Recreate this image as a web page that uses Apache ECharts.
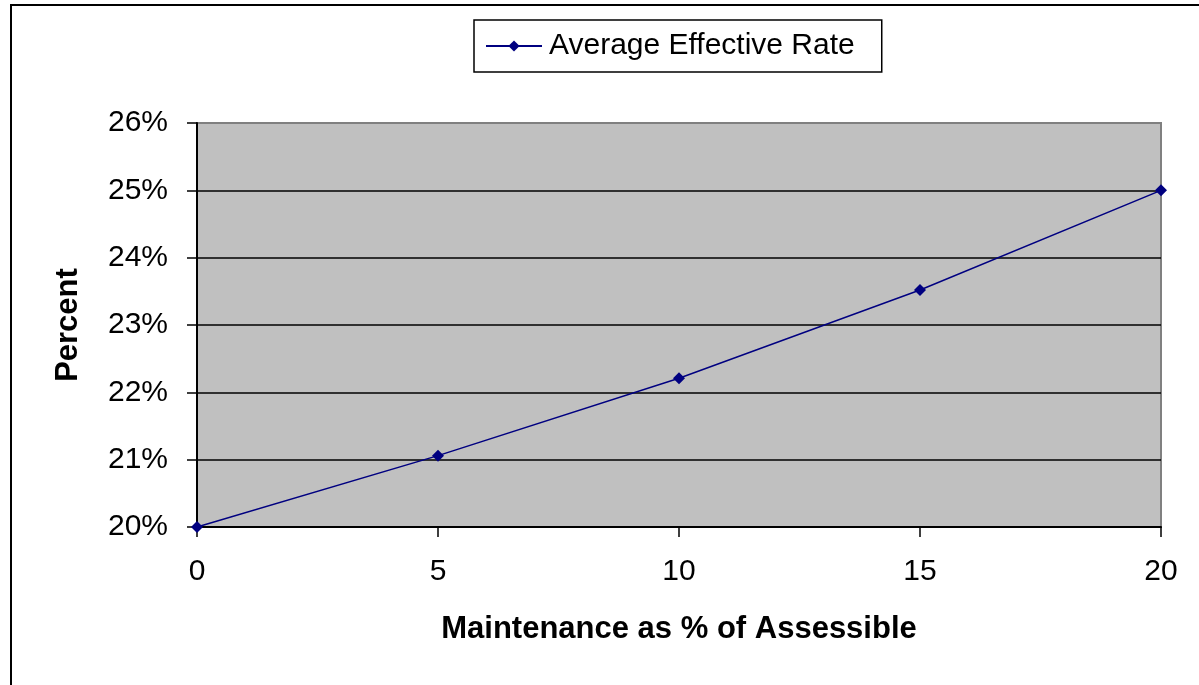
<!DOCTYPE html>
<html>
<head>
<meta charset="utf-8">
<script src="https://cdn.jsdelivr.net/npm/echarts@6/dist/echarts.min.js"></script>
<style>
html,body{margin:0;padding:0;background:#fff;}
#c{width:1199px;height:685px;}
</style>
</head>
<body>
<div id="c"></div>
<script>
const seriesName = 'Average Effective Rate';
const xValues = [0, 5, 10, 15, 20];
const rateValues = [20.0, 21.06, 22.21, 23.52, 25.0];
const yMin = 20, yMax = 26;

const chart = echarts.init(document.getElementById('c'));
const font = 'Liberation Sans, Arial, sans-serif';
chart.setOption({
  backgroundColor: '#fff',
  animation: false,
  graphic: [{
    type: 'rect',
    shape: {x: 11, y: 5, width: 1300, height: 800},
    style: {fill: 'none', stroke: '#000', lineWidth: 2},
    silent: true
  }],
  legend: {
    data: [seriesName],
    left: 474, top: 20,
    borderColor: '#000', borderWidth: 1.5,
    padding: [11, 27, 11, 11],
    itemWidth: 56, itemHeight: 14,
    textStyle: {fontFamily: font, fontSize: 30, color: '#000', padding: [0, 0, 0, 2]}
  },
  grid: {
    left: 197, top: 123, width: 964, height: 404,
    show: true, backgroundColor: '#c0c0c0', borderColor: '#808080', borderWidth: 2
  },
  xAxis: {
    type: 'value', min: 0, max: 20, interval: 5,
    name: 'Maintenance as % of Assessible', nameLocation: 'middle', nameGap: 87,
    nameTextStyle: {fontFamily: font, fontSize: 31, fontWeight: 'bold', color: '#000'},
    axisLine: {show: true, lineStyle: {color: '#000', width: 2}},
    axisTick: {show: true, length: 10, lineStyle: {color: '#000', width: 1.5}},
    axisLabel: {fontFamily: font, fontSize: 30, color: '#000', margin: 30},
    splitLine: {show: false}
  },
  yAxis: {
    type: 'value', min: yMin, max: yMax, interval: 1,
    name: 'Percent', nameLocation: 'middle', nameGap: 113,
    nameTextStyle: {fontFamily: font, fontSize: 31, fontWeight: 'bold', color: '#000'},
    axisLine: {show: true, lineStyle: {color: '#000', width: 2}},
    axisTick: {show: true, length: 10, lineStyle: {color: '#000', width: 1.5}},
    axisLabel: {fontFamily: font, fontSize: 30, color: '#000', margin: 29, formatter: '{value}%'},
    splitLine: {show: true, lineStyle: {color: ['#000', '#000', '#000', '#000', '#000', '#000', '#808080'], width: 1.5}}
  },
  series: [{
    name: seriesName,
    type: 'line',
    data: xValues.map((x, i) => [x, rateValues[i]]),
    symbol: 'diamond', symbolSize: 12,
    lineStyle: {color: '#000080', width: 1.5},
    itemStyle: {color: '#000080'}
  }]
});
</script>
</body>
</html>
